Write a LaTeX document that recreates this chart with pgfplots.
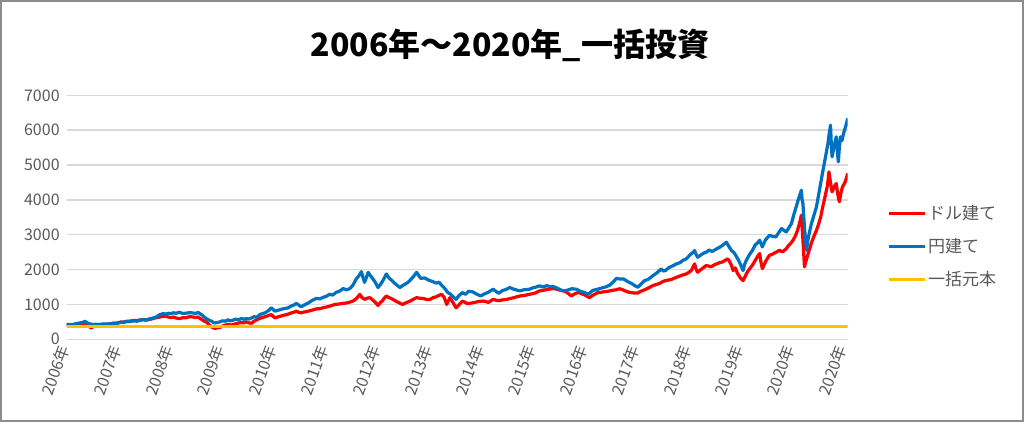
\documentclass[border=0pt]{standalone}
\usepackage{pgfplots}
\pgfplotsset{compat=1.18}
\usepackage{fontspec}
\setmainfont{Noto Sans CJK JP}
\definecolor{cred}{HTML}{FF0000}
\definecolor{cblue}{HTML}{0070C0}
\definecolor{cyel}{HTML}{FFC000}
\definecolor{tgray}{HTML}{595959}
\definecolor{ggray}{HTML}{D9D9D9}
\definecolor{fgray}{HTML}{8C8C8C}
\begin{document}
\begin{tikzpicture}
\useasboundingbox (-33.35pt,-41.35pt) rectangle (478.65pt,169.65pt);
\draw[fgray,line width=1pt] (-32.85pt,-40.85pt) rectangle (478.15pt,169.15pt);
\begin{axis}[
  at={(0pt,0pt)}, anchor=south west,
  scale only axis, width=390.5pt, height=122pt,
  xmin=0, xmax=15, ymin=0, ymax=7000,
  axis line style={draw=none},
  major tick length=0pt,
  ytick={0,1000,...,7000},
  ymajorgrids, grid style={ggray,line width=0.75pt},
  xtick={0,0.995,1.99,2.985,3.98,4.975,5.97,6.965,7.96,8.955,9.95,10.945,11.94,12.935,13.93,14.925},
  xticklabels={2006年,2007年,2008年,2009年,2010年,2011年,2012年,2013年,2014年,2015年,2016年,2017年,2018年,2019年,2020年,2020年},
  xticklabel style={rotate=70, anchor=east, font=\fontsize{8}{9}\selectfont, text=tgray},
  yticklabel style={font=\fontsize{8}{9}\selectfont, text=tgray},
  /pgf/number format/assume math mode=true,
  /pgf/number format/1000 sep={},
  legend style={draw=none, fill=none, at={(1.05,0.379)}, anchor=west,
    inner sep=0pt, row sep=6pt, font=\fontsize{8.5}{10}\selectfont, text=tgray,
    nodes={inner sep=1pt}},
  legend cell align=left,
  legend image code/.code={\draw[#1,line width=1.5pt] (0pt,0pt) -- (18pt,0pt);},
  every axis plot/.append style={line width=1.6pt, line join=round},
]
\addplot[cred] coordinates {
(0.00,400)(0.05,405)(0.10,398)(0.15,415)(0.20,420)(0.25,440)(0.30,455)(0.35,470)(0.38,430)(0.42,380)
(0.47,325)(0.51,370)(0.55,400)(0.60,410)(0.65,415)(0.70,420)(0.75,430)(0.83,440)(0.90,460)(0.95,465)
(1.00,480)(1.05,500)(1.10,495)(1.14,510)(1.20,520)(1.25,530)(1.30,540)(1.35,535)(1.40,555)(1.47,560)
(1.53,550)(1.60,570)(1.66,600)(1.72,620)(1.79,640)(1.85,660)(1.90,660)(1.95,640)(2.00,620)(2.05,640)
(2.10,610)(2.17,593)(2.23,620)(2.30,620)(2.36,650)(2.43,640)(2.48,620)(2.52,640)(2.56,600)(2.60,560)
(2.64,520)(2.68,497)(2.72,440)(2.76,380)(2.81,330)(2.85,315)(2.90,330)(2.95,344)(3.00,390)(3.05,410)
(3.10,430)(3.15,410)(3.20,420)(3.25,450)(3.30,468)(3.36,480)(3.40,470)(3.45,500)(3.50,470)(3.55,460)
(3.60,520)(3.65,560)(3.71,600)(3.77,630)(3.82,650)(3.87,680)(3.93,709)(3.97,650)(4.00,612)(4.05,640)
(4.10,660)(4.17,690)(4.25,720)(4.32,760)(4.37,780)(4.41,806)(4.46,770)(4.50,760)(4.55,780)(4.62,800)
(4.70,830)(4.80,874)(4.87,880)(4.93,910)(5.00,930)(5.07,960)(5.15,1000)(5.22,1010)(5.30,1030)(5.37,1040)
(5.44,1068)(5.50,1100)(5.55,1150)(5.60,1230)(5.63,1291)(5.67,1200)(5.72,1146)(5.77,1180)(5.82,1194)(5.86,1150)
(5.90,1100)(5.98,971)(6.02,1050)(6.06,1100)(6.10,1180)(6.14,1243)(6.18,1200)(6.22,1180)(6.27,1140)(6.32,1097)
(6.38,1050)(6.45,1000)(6.52,1050)(6.60,1100)(6.66,1150)(6.72,1194)(6.78,1180)(6.85,1170)(6.92,1140)(6.98,1146)
(7.04,1200)(7.10,1220)(7.15,1260)(7.20,1291)(7.25,1200)(7.30,1000)(7.33,1100)(7.36,1194)(7.42,1050)(7.48,903)
(7.54,1000)(7.60,1097)(7.65,1060)(7.70,1020)(7.80,1049)(7.87,1070)(7.93,1090)(8.00,1097)(8.05,1080)(8.10,1060)
(8.19,1146)(8.25,1120)(8.30,1110)(8.37,1130)(8.45,1146)(8.52,1170)(8.60,1200)(8.70,1243)(8.80,1260)(8.89,1291)
(8.95,1310)(9.00,1330)(9.08,1388)(9.14,1400)(9.20,1420)(9.27,1440)(9.34,1456)(9.40,1440)(9.45,1420)(9.50,1400)
(9.55,1388)(9.62,1330)(9.69,1243)(9.75,1300)(9.80,1330)(9.85,1340)(9.90,1300)(9.95,1270)(10.04,1194)(10.10,1260)
(10.15,1300)(10.20,1340)(10.25,1340)(10.30,1360)(10.36,1370)(10.43,1388)(10.50,1410)(10.55,1420)(10.62,1450)(10.68,1420)
(10.74,1380)(10.80,1350)(10.88,1330)(10.97,1330)(11.03,1380)(11.10,1420)(11.18,1480)(11.26,1541)(11.32,1570)(11.38,1600)
(11.44,1650)(11.50,1684)(11.56,1700)(11.62,1720)(11.68,1760)(11.75,1800)(11.82,1840)(11.90,1876)(11.95,1920)(12.00,1980)
(12.03,2080)(12.06,2163)(12.09,2000)(12.12,1923)(12.16,1980)(12.20,2020)(12.24,2070)(12.28,2115)(12.33,2100)(12.38,2080)
(12.43,2130)(12.48,2163)(12.54,2200)(12.60,2220)(12.65,2270)(12.70,2306)(12.73,2230)(12.76,2150)(12.80,1971)(12.84,2050)
(12.88,1900)(12.94,1760)(12.99,1684)(13.03,1800)(13.07,1923)(13.12,2030)(13.18,2150)(13.23,2280)(13.28,2402)(13.31,2459)
(13.33,2250)(13.36,2029)(13.40,2150)(13.43,2250)(13.47,2350)(13.50,2411)(13.55,2440)(13.60,2480)(13.65,2520)(13.69,2555)
(13.73,2520)(13.76,2520)(13.82,2603)(13.87,2700)(13.91,2760)(13.95,2842)(13.99,2950)(14.03,3100)(14.07,3300)(14.11,3560)
(14.13,3100)(14.15,2600)(14.17,2077)(14.19,2200)(14.21,2300)(14.26,2555)(14.30,2750)(14.35,2950)(14.40,3129)(14.44,3300)
(14.48,3500)(14.52,3800)(14.55,3990)(14.58,4200)(14.61,4400)(14.64,4804)(14.67,4500)(14.70,4230)(14.72,4300)(14.75,4400)
(14.78,4469)(14.81,4150)(14.84,3943)(14.87,4200)(14.90,4373)(14.93,4450)(14.96,4550)(15.00,4756)
};
\addlegendentry{ドル建て}
\addplot[cblue] coordinates {
(0.00,420)(0.05,428)(0.10,415)(0.15,440)(0.20,452)(0.25,470)(0.30,480)(0.35,516)(0.38,490)(0.42,450)
(0.46,440)(0.50,420)(0.55,432)(0.60,425)(0.65,430)(0.70,442)(0.75,436)(0.83,445)(0.90,462)(0.95,455)
(1.00,470)(1.05,490)(1.10,482)(1.14,516)(1.20,505)(1.25,520)(1.30,530)(1.35,518)(1.40,545)(1.47,565)
(1.53,555)(1.60,590)(1.66,610)(1.72,640)(1.78,700)(1.85,737)(1.90,720)(1.95,745)(2.00,740)(2.05,760)
(2.10,748)(2.17,775)(2.23,740)(2.30,750)(2.36,765)(2.43,755)(2.48,740)(2.52,775)(2.56,730)(2.60,700)
(2.64,640)(2.68,593)(2.72,560)(2.78,520)(2.81,490)(2.84,468)(2.88,480)(2.94,497)(2.99,530)(3.05,520)
(3.10,560)(3.14,530)(3.19,545)(3.25,580)(3.30,560)(3.36,600)(3.40,575)(3.45,593)(3.51,583)(3.56,620)
(3.60,650)(3.65,630)(3.71,709)(3.77,740)(3.81,760)(3.85,800)(3.89,840)(3.93,903)(3.97,850)(4.00,806)
(4.05,830)(4.10,850)(4.17,880)(4.25,900)(4.32,960)(4.37,990)(4.41,1029)(4.46,980)(4.50,932)(4.57,990)
(4.65,1050)(4.72,1120)(4.80,1175)(4.86,1160)(4.92,1200)(4.98,1230)(5.05,1291)(5.11,1270)(5.18,1350)(5.24,1380)
(5.31,1456)(5.37,1420)(5.44,1456)(5.50,1560)(5.56,1728)(5.61,1820)(5.66,1942)(5.69,1780)(5.72,1631)(5.75,1750)
(5.79,1922)(5.83,1830)(5.86,1777)(5.92,1650)(5.98,1485)(6.02,1560)(6.06,1650)(6.10,1760)(6.14,1874)(6.19,1760)
(6.25,1680)(6.32,1580)(6.40,1485)(6.45,1540)(6.50,1583)(6.55,1630)(6.60,1700)(6.66,1800)(6.72,1922)(6.76,1830)
(6.80,1748)(6.87,1760)(6.95,1700)(7.02,1660)(7.10,1612)(7.15,1640)(7.20,1550)(7.26,1460)(7.32,1340)(7.37,1300)
(7.42,1220)(7.48,1146)(7.53,1250)(7.60,1340)(7.66,1290)(7.72,1380)(7.80,1359)(7.87,1300)(7.95,1243)(8.02,1300)
(8.10,1350)(8.19,1437)(8.24,1380)(8.30,1320)(8.37,1400)(8.44,1430)(8.51,1485)(8.58,1440)(8.65,1410)(8.70,1388)
(8.78,1420)(8.89,1437)(8.96,1480)(9.02,1500)(9.08,1534)(9.15,1500)(9.22,1540)(9.28,1510)(9.34,1515)(9.42,1470)
(9.48,1420)(9.55,1388)(9.62,1410)(9.70,1450)(9.79,1437)(9.86,1380)(9.93,1350)(10.00,1300)(10.04,1320)(10.10,1400)
(10.15,1420)(10.20,1437)(10.27,1470)(10.35,1500)(10.43,1553)(10.50,1650)(10.56,1748)(10.62,1730)(10.70,1728)(10.77,1660)
(10.85,1600)(10.91,1540)(10.97,1493)(11.03,1580)(11.10,1684)(11.17,1720)(11.26,1828)(11.33,1900)(11.42,2019)(11.46,1960)
(11.50,1971)(11.56,2050)(11.63,2100)(11.71,2163)(11.78,2200)(11.84,2270)(11.90,2306)(11.97,2420)(12.02,2480)(12.06,2545)
(12.09,2430)(12.12,2354)(12.18,2420)(12.23,2470)(12.28,2498)(12.34,2560)(12.40,2520)(12.48,2593)(12.54,2640)(12.60,2700)
(12.67,2785)(12.72,2660)(12.77,2545)(12.82,2480)(12.89,2306)(12.94,2150)(12.99,1971)(13.02,2150)(13.05,2258)(13.11,2420)
(13.17,2550)(13.22,2700)(13.28,2785)(13.31,2842)(13.34,2720)(13.36,2651)(13.42,2850)(13.50,2986)(13.56,2950)(13.62,2938)
(13.67,3050)(13.73,3177)(13.78,3120)(13.82,3081)(13.87,3200)(13.92,3321)(13.96,3550)(14.01,3799)(14.06,4050)(14.11,4278)
(14.125,4000)(14.14,3895)(14.17,3200)(14.21,2555)(14.23,2800)(14.26,3033)(14.30,3300)(14.35,3550)(14.40,3799)(14.46,4300)
(14.52,4804)(14.57,5200)(14.62,5617)(14.645,5900)(14.67,6144)(14.685,5600)(14.70,5234)(14.74,5550)(14.78,5809)(14.80,5400)
(14.82,5091)(14.84,5500)(14.86,5809)(14.89,5700)(14.92,5904)(14.96,6100)(15.00,6335)
};
\addlegendentry{円建て}
\addplot[cyel] coordinates {(0,370)(15,370)};
\addlegendentry{一括元本}
\end{axis}
\node[font=\bfseries\fontsize{16}{18}\selectfont] at (221.7pt,147pt) {2006年～2020年\_一括投資};
\end{tikzpicture}
\end{document}
